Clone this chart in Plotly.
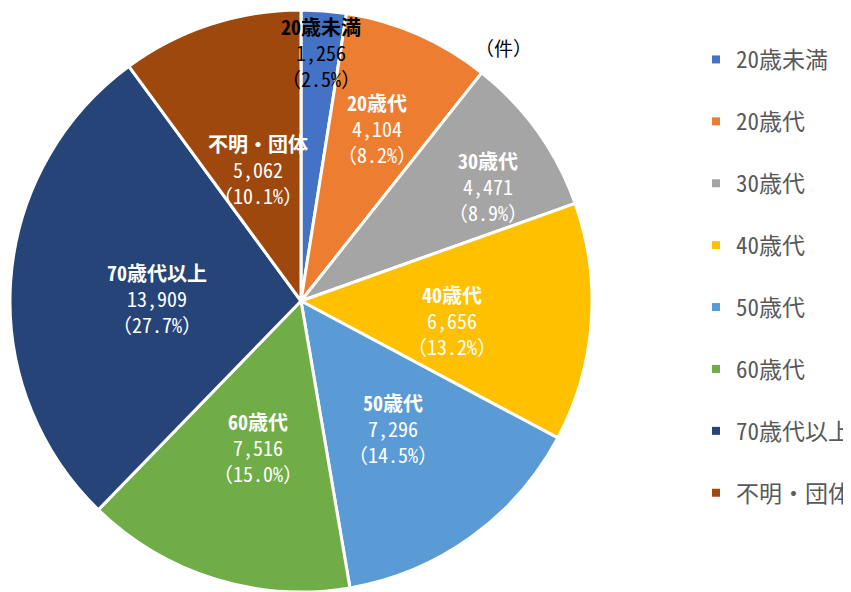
import math
import plotly.graph_objects as go

categories = ["20歳未満", "20歳代", "30歳代", "40歳代", "50歳代", "60歳代", "70歳代以上", "不明・団体"]
values = [1256, 4104, 4471, 6656, 7296, 7516, 13909, 5062]
colors = ["#4472C4", "#ED7D31", "#A5A5A5", "#FFC000", "#5B9BD5", "#70AD47", "#264478", "#9E480E"]
unit_label = "（件）"

# layout constants (page offset: browser body margin of 8px)
OFF = 8
W, H = 851 - OFF, 592 - OFF
MT = 2
CX, CY, R = 301, 301, 291          # page pixels
label_radius = [249, 188, 219, 152, 157, 153, 144, 138]
label_angle_shift = [0, 0, 4, 3, 0, -1, -3, 0]   # degrees
label_colors = ["black"] + ["white"] * 7
FONT = "Noto Sans Mono CJK JP, Noto Sans CJK JP"

total = sum(values)

def px2paper(px, py):
    return (px - OFF) / W, 1 - ((py - OFF) - MT) / (H - MT)

fig = go.Figure()
fig.add_trace(go.Pie(
    labels=categories, values=values, sort=False, direction="clockwise", rotation=0,
    marker=dict(colors=colors, line=dict(color="white", width=3)),
    textinfo="none",
    domain=dict(x=[0, 2 * (CX - OFF) / W], y=[0, 1]),
    showlegend=False, hoverinfo="label+value+percent",
))

for c, col in zip(categories, colors):
    fig.add_trace(go.Scatter(x=[None], y=[None], mode="markers", name=c, legendgroup=c,
                             marker=dict(symbol="square", size=8, color=col)))

cum = 0
for i, (c, v) in enumerate(zip(categories, values)):
    mid = (cum + v / 2) / total
    cum += v
    theta = 2 * math.pi * mid + math.radians(label_angle_shift[i])
    lx = CX + label_radius[i] * math.sin(theta)
    ly = CY - label_radius[i] * math.cos(theta)
    xp, yp = px2paper(lx, ly)
    fig.add_annotation(x=xp, y=yp, xref="paper", yref="paper", showarrow=False,
                       xanchor="center", yanchor="middle", align="center", borderpad=0,
                       text=f"<b>{c}</b><br>{v:,}<br>（{v / total * 100:.1f}%）",
                       font=dict(family=FONT, size=20, color=label_colors[i]))

ux, uy = px2paper(503, 47)
fig.add_annotation(x=ux, y=uy, xref="paper", yref="paper", showarrow=False,
                   xanchor="center", yanchor="middle",
                   text=unit_label, font=dict(family=FONT, size=19, color="black"))

lgx, lgy = px2paper(714 - 18, 38)
fig.update_layout(
    width=W, height=H, margin=dict(l=0, r=0, t=MT, b=0, autoexpand=False),
    paper_bgcolor="white", plot_bgcolor="white",
    xaxis=dict(visible=False), yaxis=dict(visible=False),
    legend=dict(x=lgx, y=lgy, xanchor="left", yanchor="top", tracegroupgap=29,
                font=dict(family=FONT, size=23, color="#595959"), itemwidth=30,
                bgcolor="rgba(0,0,0,0)"),
)
fig.write_html("out.html")
